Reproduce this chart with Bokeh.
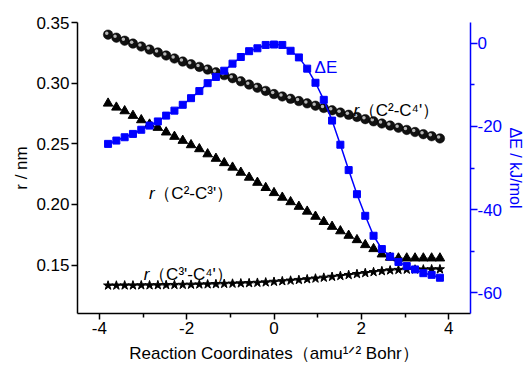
import math
from bokeh.plotting import figure
from bokeh.models import Range1d, LinearAxis, FixedTicker, PrintfTickFormatter, Label
from bokeh.embed import file_html
from bokeh.resources import INLINE

# ---- data ----
coord = [-3.80, -3.61, -3.42, -3.23, -3.04, -2.85, -2.66, -2.47, -2.28, -2.09,
         -1.90, -1.71, -1.52, -1.33, -1.14, -0.95, -0.76, -0.57, -0.38, -0.19,
         0.00, 0.19, 0.38, 0.57, 0.76, 0.95, 1.14, 1.33, 1.52, 1.71,
         1.90, 2.09, 2.28, 2.47, 2.66, 2.85, 3.04, 3.23, 3.42, 3.61, 3.80]

r_c2c4 = [0.3400, 0.3375, 0.3350, 0.3326, 0.3302, 0.3277, 0.3253, 0.3228, 0.3203, 0.3178,
          0.3156, 0.3134, 0.3112, 0.3089, 0.3066, 0.3041, 0.3015, 0.2988, 0.2962, 0.2936,
          0.2910, 0.2890, 0.2871, 0.2852, 0.2833, 0.2814, 0.2795, 0.2776, 0.2757, 0.2739,
          0.2721, 0.2703, 0.2685, 0.2667, 0.2650, 0.2632, 0.2614, 0.2597, 0.2579, 0.2562, 0.2544]

r_c2c3 = [0.2833, 0.2800, 0.2770, 0.2732, 0.2696, 0.2660, 0.2633, 0.2595, 0.2559, 0.2526,
          0.2490, 0.2457, 0.2415, 0.2378, 0.2342, 0.2305, 0.2263, 0.2222, 0.2180, 0.2137,
          0.2095, 0.2057, 0.2020, 0.1982, 0.1942, 0.1900, 0.1857, 0.1817, 0.1780, 0.1743,
          0.1707, 0.1666, 0.1633, 0.1589, 0.1562, 0.1556, 0.1556, 0.1556, 0.1556, 0.1556, 0.1556]

r_c3c4 = [0.1331, 0.1331, 0.1332, 0.1332, 0.1333, 0.1333, 0.1334, 0.1335, 0.1336, 0.1337,
          0.1338, 0.1340, 0.1341, 0.1343, 0.1345, 0.1347, 0.1349, 0.1351, 0.1354, 0.1357,
          0.1362, 0.1367, 0.1372, 0.1377, 0.1383, 0.1389, 0.1396, 0.1403, 0.1410, 0.1418,
          0.1426, 0.1434, 0.1442, 0.1450, 0.1456, 0.1460, 0.1462, 0.1463, 0.1464, 0.1465, 0.1465]

delta_e = [-24.2, -23.4, -22.6, -21.8, -20.8, -19.8, -18.8, -17.4, -16.2, -14.8,
           -13.2, -11.5, -9.6, -8.1, -6.6, -4.9, -3.3, -1.9, -1.2, -0.4,
           -0.3, -0.4, -1.8, -3.4, -6.1, -9.5, -13.6, -18.6, -24.4, -30.5,
           -36.3, -41.5, -46.3, -49.5, -51.3, -52.6, -53.6, -54.4, -55.3, -55.7, -56.4]

x_ticks = [-4, -2, 0, 2, 4]
x_minor = [-3, -1, 1, 3]
left_ticks = [0.15, 0.20, 0.25, 0.30, 0.35]
right_ticks = [0, -20, -40, -60]
right_minor = [-10, -30, -50]

FONT = "Liberation Sans"
FS = "17px"
BLUE = "#0000ff"

p = figure(width=527, height=365, output_backend="svg", toolbar_location=None,
           x_range=Range1d(-4.5, 4.5), y_range=Range1d(0.11, 0.35),
           min_border_left=77, min_border_right=52, min_border_top=22, min_border_bottom=50)
p.extra_y_ranges = {"de": Range1d(-65, 5)}
p.outline_line_color = None
p.xgrid.visible = False
p.ygrid.visible = False
p.background_fill_color = "white"
p.border_fill_color = "white"

rax = LinearAxis(y_range_name="de")
p.add_layout(rax, "right")

xa = p.xaxis[0]
xa.ticker = FixedTicker(ticks=x_ticks, minor_ticks=x_minor)
xa.formatter = PrintfTickFormatter(format="%d")
ya = p.yaxis[0]
ya.ticker = FixedTicker(ticks=left_ticks, minor_ticks=[])
ya.formatter = PrintfTickFormatter(format="%.2f")
rax.ticker = FixedTicker(ticks=right_ticks, minor_ticks=right_minor)
rax.formatter = PrintfTickFormatter(format="%d")

for ax in (xa, ya, rax):
    ax.axis_line_width = 1.5
    ax.major_tick_line_width = 1.5
    ax.minor_tick_line_width = 1.5
    ax.major_tick_in = 0
    ax.minor_tick_in = 0
    ax.major_tick_out = 6
    ax.minor_tick_out = 4
    ax.major_label_text_font = FONT
    ax.major_label_text_font_size = FS
    ax.major_label_standoff = 2
    ax.axis_label_text_font = FONT
    ax.axis_label_text_font_size = FS
    ax.axis_label_text_font_style = "normal"

xa.axis_label = "Reaction Coordinates（amu¹ᐟ² Bohr）"
xa.axis_label_standoff = 7
ya.axis_label = "r / nm"
ya.axis_label_standoff = 2
ya.minor_tick_line_color = None

rax.axis_label = "ΔE / kJ/mol"
rax.axis_label_text_font_size = "16px"
rax.axis_label_standoff = 2
rax.axis_label_text_color = BLUE
rax.major_tick_out = 7
rax.minor_tick_out = 4
rax.major_label_standoff = 0
rax.axis_line_color = BLUE
rax.major_tick_line_color = BLUE
rax.minor_tick_line_color = BLUE
rax.major_label_text_color = BLUE
for ax in (xa, ya):
    ax.axis_line_color = "black"
    ax.major_label_text_color = "black"
    ax.axis_label_text_color = "black"

# ---- series ----
# highlight of each shaded ball, nudged up-left of its centre
hl_x = [v - 0.03 for v in coord]
hl_y = [v + 0.0012 for v in r_c2c4]

p.line(coord, r_c2c4, line_color="black", line_width=0.8)
p.scatter(coord, r_c2c4, marker="circle", size=9.5, fill_color="#111111",
          line_color="black", line_width=0.5)
p.scatter(hl_x, hl_y, marker="circle", size=3.5, fill_color="#b8b8b8", line_color=None)

p.line(coord, r_c2c3, line_color="black", line_width=0.8)
p.scatter(coord, r_c2c3, marker="triangle", size=9.5, fill_color="black", line_color="black")

p.line(coord, r_c3c4, line_color="black", line_width=0.8)
p.scatter(coord, r_c3c4, marker="star", size=9.5, fill_color="black", line_color="black")

p.line(coord, delta_e, line_color=BLUE, line_width=1.5, y_range_name="de")
p.scatter(coord, delta_e, marker="square", size=7, fill_color=BLUE, line_color=BLUE,
          y_range_name="de")

# ---- texts ----
def lab(x, y, text, color="black", style="normal", yr="default"):
    p.add_layout(Label(x=x, y=y, text=text, text_color=color, text_font=FONT,
                       text_font_size=FS, text_font_style=style,
                       text_align="left", text_baseline="alphabetic", y_range_name=yr))

def rlabel(x, y, rest):
    lab(x, y, "r", style="italic")
    lab(x + 0.12, y, rest)

rlabel(1.82, 0.2775, "（C²-C⁴'）")
rlabel(-2.86, 0.2091, "（C²-C³'）")
rlabel(-2.98, 0.1420, "（C³'-C⁴'）")
lab(0.93, -5.9, "ΔE", color=BLUE, yr="de")

open("out.html", "w").write(file_html(p, INLINE))
